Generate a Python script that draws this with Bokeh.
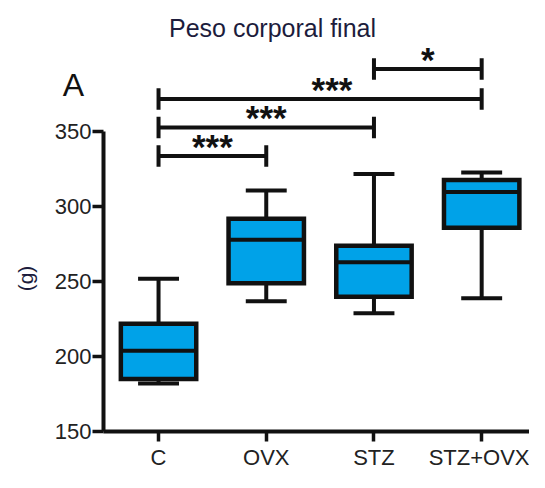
import math
from bokeh.plotting import figure
from bokeh.models import Range1d, FixedTicker, Label, ColumnDataSource
from bokeh.core.properties import value
from bokeh.embed import file_html
from bokeh.resources import INLINE

# ---- data ----
categories = ["C", "OVX", "STZ", "STZ+OVX"]
whisker_low = [182, 237, 229, 239]
q1 = [185, 249, 240, 286]
median = [204, 278, 263, 310]
q3 = [222, 292, 274, 318]
whisker_high = [252, 311, 322, 323]

y_ticks = [150, 200, 250, 300, 350]

bracket_from = ["C", "C", "C", "STZ"]
bracket_to = ["OVX", "STZ", "STZ+OVX", "STZ+OVX"]
bracket_height = [334, 353, 372, 392]
bracket_label = ["***", "***", "***", "*"]

title_text = "Peso corporal final"
panel_letter = "A"
y_label = "(g)"

# ---- style ----
FONT = "Liberation Sans"
BOX_FILL = "#00A2E8"
INK = "#111111"
TEXT = "#222222"
BOX_W = 0.70
CAP_HALF = 0.19
TICK_HALF = 7.2
LW = 4
STAR_SHIFT = [0, 0, 0.11, 0]   # horizontal nudge of the star labels (style)

xs = list(range(len(categories)))
pos = {c: i for i, c in enumerate(categories)}

W, H = 529, 472
p = figure(width=W, height=H, output_backend="svg", toolbar_location=None,
           x_range=Range1d(-0.511, 3.444), y_range=Range1d(150, 437.8),
           min_border_left=103, min_border_right=0, min_border_top=0,
           min_border_bottom=36)
p.xgrid.visible = False
p.ygrid.visible = False
p.outline_line_color = None
p.background_fill_color = "white"
p.border_fill_color = "white"

# y axis
ya = p.yaxis[0]
ya.bounds = (150, 350)
ya.ticker = FixedTicker(ticks=y_ticks, minor_ticks=[])
ya.axis_line_width = LW
ya.axis_line_color = INK
ya.major_tick_line_width = 3.5
ya.major_tick_line_color = INK
ya.major_tick_out = 11
ya.major_tick_in = 0
ya.minor_tick_out = 0
ya.minor_tick_in = 0
ya.major_label_text_font = FONT
ya.major_label_text_font_size = "22px"
ya.major_label_text_color = TEXT
ya.major_label_standoff = 1

# x axis
xa = p.xaxis[0]
xa.ticker = FixedTicker(ticks=xs, minor_ticks=[])
xa.major_label_overrides = {i: c for i, c in enumerate(categories)}
xa.axis_line_width = LW
xa.axis_line_color = INK
xa.major_tick_line_width = 3.5
xa.major_tick_line_color = INK
xa.major_tick_out = 10
xa.major_tick_in = 0
xa.minor_tick_out = 0
xa.minor_tick_in = 0
xa.major_label_text_font = FONT
xa.major_label_text_font_size = "22px"
xa.major_label_text_color = TEXT
xa.major_label_standoff = 3

# box plot
src = ColumnDataSource(dict(
    x=xs, lo=whisker_low, q1=q1, med=median, q3=q3, hi=whisker_high,
    cl=[x - CAP_HALF for x in xs], cr=[x + CAP_HALF for x in xs],
    bl=[x - BOX_W / 2 for x in xs], br=[x + BOX_W / 2 for x in xs],
))
p.segment(x0="x", y0="q3", x1="x", y1="hi", source=src, line_width=LW, line_color=INK)
p.segment(x0="x", y0="q1", x1="x", y1="lo", source=src, line_width=LW, line_color=INK)
p.segment(x0="cl", y0="hi", x1="cr", y1="hi", source=src, line_width=LW, line_color=INK)
p.segment(x0="cl", y0="lo", x1="cr", y1="lo", source=src, line_width=LW, line_color=INK)
p.vbar(x="x", width=BOX_W, top="q3", bottom="q1", source=src,
       fill_color=BOX_FILL, line_color=INK, line_width=4.5, line_join="miter")
p.segment(x0="bl", y0="med", x1="br", y1="med", source=src, line_width=LW, line_color=INK)

# significance brackets
bx0 = [pos[a] for a in bracket_from]
bx1 = [pos[b] for b in bracket_to]
bsrc = ColumnDataSource(dict(
    x0=bx0, x1=bx1, h=bracket_height,
    lo=[h - TICK_HALF for h in bracket_height],
    hi=[h + TICK_HALF for h in bracket_height],
    mid=[(a + b) / 2 + s for a, b, s in zip(bx0, bx1, STAR_SHIFT)],
    ty=[h + 6.5 for h in bracket_height],
    txt=bracket_label,
))
p.segment(x0="x0", y0="h", x1="x1", y1="h", source=bsrc, line_width=LW, line_color=INK)
p.segment(x0="x0", y0="lo", x1="x0", y1="hi", source=bsrc, line_width=LW, line_color=INK)
p.segment(x0="x1", y0="lo", x1="x1", y1="hi", source=bsrc, line_width=LW, line_color=INK)
p.text(x="mid", y="ty", text="txt", source=bsrc, text_align="center",
       text_baseline="middle", text_font=value(FONT), text_font_size="35px",
       text_font_style="bold", text_color=INK)

# title inside the frame
p.add_layout(Label(x=1.058, y=419.5, text=title_text, text_align="center",
                   text_baseline="middle", text_font=FONT, text_font_size="25px",
                   text_color="#1c1c3c"))
# panel letter and y label live in the left side panel (not clipped to the frame)
p.add_layout(Label(x=73, y=84, x_units="canvas", y_units="canvas",
                   text=panel_letter, text_align="center",
                   text_baseline="middle", text_font=FONT, text_font_size="32px",
                   text_color=INK), "left")
p.add_layout(Label(x=25, y=278, x_units="canvas", y_units="canvas",
                   text=y_label, angle=math.pi / 2, text_align="center",
                   text_baseline="middle", text_font=FONT, text_font_size="21px",
                   text_color="#1c1c3c"), "left")

open("out.html", "w").write(file_html(p, INLINE))
